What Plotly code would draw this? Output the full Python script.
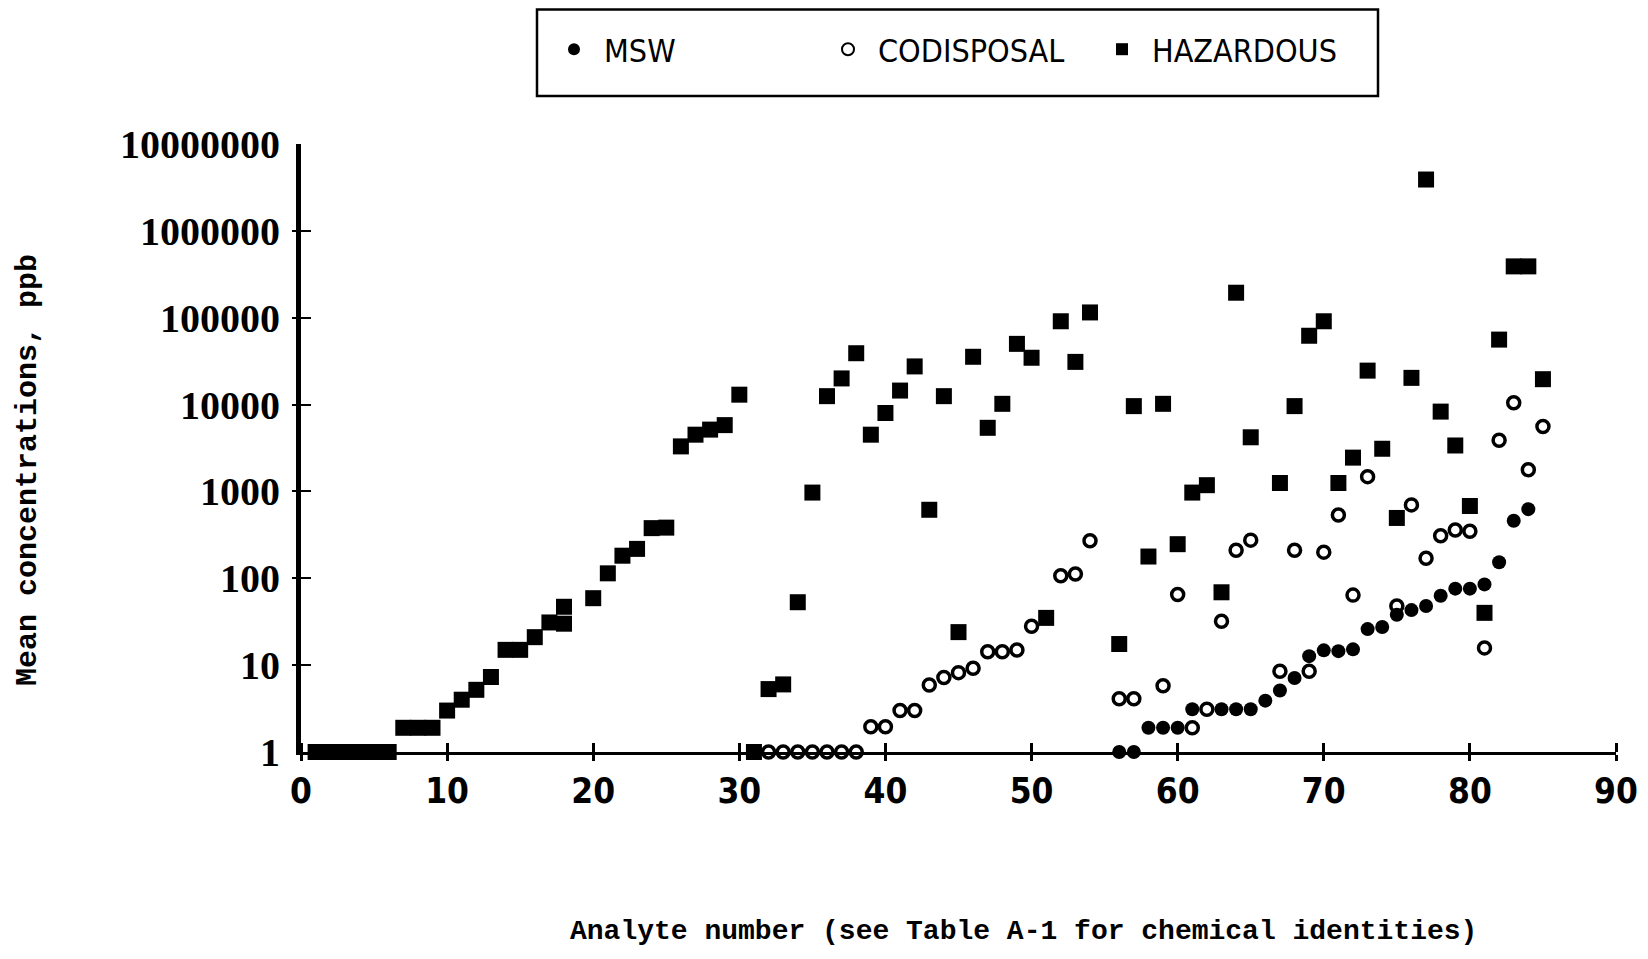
import plotly.graph_objects as go

# ---------------- data ----------------
msw_x = [56, 57, 58, 59, 60, 61, 63, 64, 65, 66, 67, 68, 69, 70, 71, 72, 73, 74,
         75, 76, 77, 78, 79, 80, 81, 82, 83, 84]
msw_y = [1, 1, 1.9, 1.9, 1.9, 3.1, 3.1, 3.1, 3.1, 3.9, 5.1, 7.1, 12.7, 14.8, 14.5, 15.2, 26, 27.5,
         38, 43, 48, 63, 76, 76, 85, 153, 460, 625]

cod_x = [32, 33, 34, 35, 36, 37, 38, 39, 40, 41, 42, 43, 44, 45, 46, 47, 48, 49, 50,
         52, 53, 54, 56, 57, 59, 60, 61, 62, 63, 64, 65, 67, 68, 69, 70, 71, 72, 73,
         75, 76, 77, 78, 79, 80, 81, 82, 83, 84, 85]
cod_y = [1, 1, 1, 1, 1, 1, 1, 1.95, 1.95, 3, 3, 5.9, 7.2, 8.2, 9.2, 14.3, 14.3, 14.9, 28,
         107, 112, 270, 4.1, 4.1, 5.8, 65, 1.9, 3.1, 32, 210, 275, 8.5, 210, 8.5, 200, 535, 64, 1480,
         48, 700, 170, 308, 360, 348, 15.8, 3880, 10500, 1780, 5600]

haz_x = [1, 2, 3, 4, 5, 6, 7, 8, 9, 10, 11, 12, 13, 14, 15, 16, 17, 18, 18, 20,
         21, 22, 23, 24, 25, 26, 27, 28, 29, 30, 31, 32, 33, 34, 35, 36, 37, 38, 39, 40,
         41, 42, 43, 44, 45, 46, 47, 48, 49, 50, 51, 52, 53, 54, 56, 57, 58, 59, 60,
         61, 62, 63, 64, 65, 67, 68, 69, 70, 71, 72, 73, 74, 75, 76, 77, 78, 79, 80,
         81, 82, 83, 84, 85]
haz_y = [1, 1, 1, 1, 1, 1, 1.9, 1.9, 1.9, 3, 4, 5.2, 7.3, 15, 15, 21, 31, 30, 47, 59,
         114, 182, 218, 378, 383, 3300, 4500, 5150, 5800, 13000, 1, 5.3, 6, 53, 970, 12500, 20000, 39000, 4500, 8000,
         14500, 27500, 615, 12500, 24, 35500, 5400, 10200, 50000, 34600, 35, 91000, 31000, 115000, 17.5, 9600, 178, 10200, 247,
         970, 1180, 69, 194000, 4200, 1250, 9600, 62000, 91000, 1250, 2450, 24600, 3100, 495, 20300, 3900000, 8300, 3380, 680,
         40, 56000, 390000, 390000, 19600]

x_ticks = [0, 10, 20, 30, 40, 50, 60, 70, 80, 90]
y_ticks = [1, 10, 100, 1000, 10000, 100000, 1000000, 10000000]
y_tick_text = ["1", "10", "100", "1000", "10000", "100000", "1000000", "10000000"]

series_names = ["MSW", "CODISPOSAL", "HAZARDOUS"]
x_title = "Analyte number (see Table A-1 for chemical identities)"
y_title = "Mean concentrations, ppb"

# ---------------- figure ----------------
narrow = "Liberation Sans Narrow, Arial Narrow, DejaVu Sans Condensed, sans-serif"
mono = "Liberation Mono, Courier New, DejaVu Sans Mono, monospace"
serif = "Liberation Serif, Times New Roman, serif"

W, H = 1630, 941
L, R, T, B = 293, 22, 136, 197
PW, PH = W - L - R, H - T - B


def px(xf):
    return (xf - L) / PW


def py(yf):
    return (H - B - yf) / PH


fig = go.Figure()
fig.add_trace(go.Scatter(
    x=msw_x, y=msw_y, mode="markers", name=series_names[0], cliponaxis=False,
    marker=dict(symbol="circle", size=14, color="black")))
fig.add_trace(go.Scatter(
    x=cod_x, y=cod_y, mode="markers", name=series_names[1], cliponaxis=False,
    marker=dict(symbol="circle-open", size=12, color="black", line=dict(width=3.5, color="black"))))
fig.add_trace(go.Scatter(
    x=haz_x, y=haz_y, mode="markers", name=series_names[2], cliponaxis=False,
    marker=dict(symbol="square", size=16, color="black")))

fig.update_layout(
    width=W, height=H,
    paper_bgcolor="white", plot_bgcolor="white",
    margin=dict(l=L, r=R, t=T, b=B, autoexpand=False),
    showlegend=True,
    legend=dict(
        orientation="h", xref="container", yref="container",
        x=536 / W, y=1 - 41.4 / H, xanchor="left", yanchor="middle",
        font=dict(family=narrow, size=32, color="black"),
        itemwidth=50,
        entrywidth=209, entrywidthmode="pixels",
        bgcolor="rgba(0,0,0,0)", borderwidth=0,
        itemsizing="constant",
    ),
    shapes=[dict(type="rect", xref="paper", yref="paper",
                 x0=px(529), x1=px(1370), y0=py(88), y1=py(1.5),
                 line=dict(color="black", width=2.5))],
    annotations=[
        dict(text=x_title, xref="paper", yref="paper", x=px(1016), y=py(923),
             xanchor="center", yanchor="middle", showarrow=False,
             font=dict(family=mono, size=28, color="black", weight="bold")),
        dict(text=y_title, xref="paper", yref="paper", x=px(20), y=py(462),
             xanchor="center", yanchor="middle", showarrow=False, textangle=-90,
             font=dict(family=mono, size=30, color="black", weight="bold")),
    ],
)

fig.update_xaxes(
    range=[0, 90], tickvals=x_ticks, ticktext=[str(v) for v in x_ticks],
    showgrid=False, zeroline=False, automargin=False,
    showline=True, linecolor="black", linewidth=3,
    ticks="outside", ticklen=6, tickwidth=3, tickcolor="black",
    ticklabelstandoff=0,
    minor=dict(tickvals=x_ticks, ticks="inside", ticklen=9, tickwidth=3,
               tickcolor="black", showgrid=False),
    tickfont=dict(family=narrow, size=35, color="black", weight="bold"),
)
fig.update_yaxes(
    type="log", range=[0, 7], tickvals=y_ticks, ticktext=y_tick_text,
    showgrid=False, zeroline=False, automargin=False,
    showline=True, linecolor="black", linewidth=5,
    ticks="inside", ticklen=10, tickwidth=2, tickcolor="black",
    ticklabelstandoff=8,
    minor=dict(tickvals=y_ticks, ticks="outside", ticklen=4, tickwidth=2,
               tickcolor="black", showgrid=False),
    tickfont=dict(family=serif, size=40, color="black", weight="bold"),
)

fig.write_html("out.html")
